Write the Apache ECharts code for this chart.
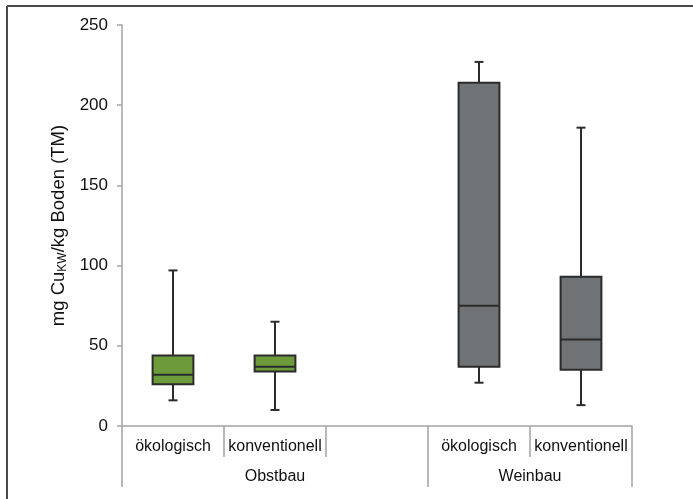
<!DOCTYPE html>
<html>
<head>
<meta charset="utf-8">
<script src="https://cdn.jsdelivr.net/npm/echarts@6/dist/echarts.min.js"></script>
<style>
html,body{margin:0;padding:0;background:#fff;}
#chart{width:693px;height:499px;}
</style>
</head>
<body>
<div id="chart"></div>
<script>
// Categories and group structure
var categories = ['ökologisch', 'konventionell', '', 'ökologisch', 'konventionell'];
var groupNames = ['Obstbau', 'Weinbau'];
var groupStart = [0, 3];
var groupEnd = [3, 5];
// Box statistics per category (null = empty slot)
var boxMin    = [16, 10, null, 27, 13];
var boxQ1     = [26, 34, null, 37, 35];
var boxMedian = [32, 37, null, 75, 54];
var boxQ3     = [44, 44, null, 214, 93];
var boxMax    = [97, 65, null, 227, 186];
var boxGroup  = [0, 0, null, 1, 1];
// Y axis ticks
var yMin = 0, yMax = 250, yStep = 50;

var groupColors = ['#6d9a3b', '#6f7376'];
var font = '"Liberation Sans", Arial, sans-serif';

var data = [];
for (var i = 0; i < categories.length; i++) {
  if (boxMin[i] == null) continue;
  data.push([i, boxMin[i], boxQ1[i], boxMedian[i], boxQ3[i], boxMax[i], boxGroup[i]]);
}

function renderBox(params, api) {
  var idx = api.value(0);
  var x = api.coord([idx, 0])[0];
  var yMinP = api.coord([idx, api.value(1)])[1];
  var yQ1 = api.coord([idx, api.value(2)])[1];
  var yMed = api.coord([idx, api.value(3)])[1];
  var yQ3 = api.coord([idx, api.value(4)])[1];
  var yMaxP = api.coord([idx, api.value(5)])[1];
  var bw = api.size([1, 0])[0] * 0.4;
  var cap = 9;
  var color = groupColors[api.value(6)];
  var ls = {stroke: '#2b2b2b', lineWidth: 2};
  return {
    type: 'group',
    children: [
      {type: 'line', shape: {x1: x, y1: yMaxP, x2: x, y2: yQ3}, style: ls},
      {type: 'line', shape: {x1: x, y1: yQ1, x2: x, y2: yMinP}, style: ls},
      {type: 'line', shape: {x1: x - cap / 2, y1: yMaxP, x2: x + cap / 2, y2: yMaxP}, style: ls},
      {type: 'line', shape: {x1: x - cap / 2, y1: yMinP, x2: x + cap / 2, y2: yMinP}, style: ls},
      {type: 'rect', shape: {x: x - bw / 2, y: yQ3, width: bw, height: yQ1 - yQ3},
        style: {fill: color, stroke: '#2b2b2b', lineWidth: 2}},
      {type: 'line', shape: {x1: x - bw / 2, y1: yMed, x2: x + bw / 2, y2: yMed}, style: ls}
    ]
  };
}

var groupCenters = groupStart.map(function (s, k) { return (s + groupEnd[k]) / 2; });
var groupTicks = groupStart.concat([groupEnd[groupEnd.length - 1]]);

var chart = echarts.init(document.getElementById('chart'), null, {renderer: 'canvas'});
chart.setOption({
  animation: false,
  backgroundColor: '#fff',
  grid: {left: 122, right: 61, top: 25, bottom: 73, containLabel: false},
  xAxis: [{
    type: 'category',
    data: categories,
    boundaryGap: true,
    axisLine: {lineStyle: {color: '#a3a3a3', width: 1.5}},
    axisTick: {show: true, interval: 0, length: 31, alignWithLabel: false, lineStyle: {color: '#a3a3a3', width: 1.5}},
    axisLabel: {interval: 0, margin: 13, fontSize: 16, color: '#111', fontFamily: font},
    splitLine: {show: false}
  }, {
    type: 'value',
    min: 0, max: categories.length,
    position: 'bottom',
    axisLine: {show: false},
    axisTick: {show: true, customValues: groupTicks, length: 61, lineStyle: {color: '#a3a3a3', width: 1.5}},
    axisLabel: {
      customValues: groupCenters, margin: 43, fontSize: 16, color: '#111', fontFamily: font,
      formatter: function (v) { var k = groupCenters.indexOf(v); return k >= 0 ? groupNames[k] : ''; }
    },
    splitLine: {show: false}
  }],
  yAxis: {
    type: 'value',
    min: yMin, max: yMax, interval: yStep,
    axisLine: {show: true, lineStyle: {color: '#a3a3a3', width: 1.5}},
    axisTick: {show: true, length: 5, lineStyle: {color: '#a3a3a3', width: 1.5}},
    axisLabel: {margin: 14, fontSize: 17, color: '#111', fontFamily: font},
    splitLine: {show: false},
    name: '{a|mg Cu}{s|KW}{a|/kg Boden (TM)}',
    nameLocation: 'middle',
    nameRotate: 90,
    nameGap: 47,
    nameTextStyle: {
      fontFamily: font,
      rich: {
        a: {fontSize: 18.5, color: '#111', fontFamily: font, lineHeight: 20, verticalAlign: 'middle'},
        s: {fontSize: 12, color: '#111', fontFamily: font, lineHeight: 12, verticalAlign: 'bottom'}
      }
    }
  },
  graphic: [
    {type: 'line', shape: {x1: 7, y1: 6, x2: 693, y2: 6}, style: {stroke: '#4a4a4a', lineWidth: 2}},
    {type: 'line', shape: {x1: 7, y1: 6, x2: 7, y2: 499}, style: {stroke: '#4a4a4a', lineWidth: 2}}
  ],
  series: [{
    type: 'custom',
    xAxisIndex: 0,
    renderItem: renderBox,
    encode: {x: 0, y: [1, 2, 3, 4, 5]},
    data: data
  }]
});
</script>
</body>
</html>
